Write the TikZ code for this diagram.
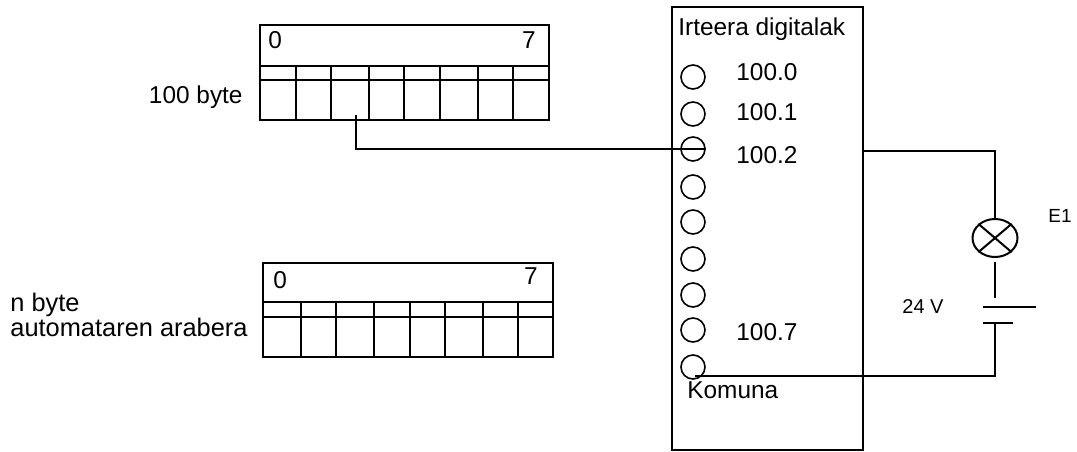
\documentclass[tikz,border=0pt]{standalone}
\usepackage{fontspec}
\setmainfont{Liberation Sans}
\usetikzlibrary{shapes.geometric}
\tikzset{
  wire/.style={line width=1pt},
  txt/.style={inner sep=0pt, anchor=base west, font=\fontsize{12.2}{14}\selectfont},
  txtwide/.style={inner sep=0pt, anchor=base west, font=\fontsize{12.7}{14}\selectfont},
  txtsmall/.style={inner sep=0pt, anchor=base west, font=\fontsize{9.5}{11}\selectfont},
  port/.style={circle, draw, line width=0.8pt, minimum size=12pt, inner sep=0pt}
}
\begin{document}
\begin{tikzpicture}[x=0.5pt, y=-0.5pt]
   \useasboundingbox (0,0) rectangle (1077,451);
   \draw[wire] (260,25) rectangle (549,120);
   \draw[wire] (260,66) -- (549,66);
   \draw[wire] (260,80) -- (549,80);
   \foreach \x in {296,331,369,404,440,478,513}
     \draw[wire] (\x,66) -- (\x,120);
   \draw[wire] (263,263) rectangle (553,357);
   \draw[wire] (263,302) -- (553,302);
   \draw[wire] (263,317) -- (553,317);
   \foreach \x in {301,336,374,410,445,483,518}
     \draw[wire] (\x,302) -- (\x,357);
   \node[txt] (first1) at (268,48) {0};
   \node[txt, anchor=base east] (last1) at (536,48) {7};
   \node[txt] (first2) at (273,288) {0};
   \node[txt, anchor=base east] (last2) at (538,284) {7};
   \node[txt, anchor=base east] (byte100) at (243,103) {100 byte};
   \node[txtwide] (byten) at (10,311) {n byte};
   \node[txtwide] (arabera) at (10,336) {automataren arabera};
   \node[draw, line width=1pt, minimum width=95.5pt, minimum height=221.5pt, inner sep=0pt] (modul) at (767.5,228.5) {};
   \node[txt] (izena) at (678,35) {Irteera digitalak};
   \foreach \n/\y in {0/77,1/114,2/149,3/187,4/222,5/259,6/295,7/330,8/367}
     \node[port] (out\n) at (693,\y) {};
   \node[txt] (lbl0) at (736,80) {100.0};
   \node[txt] (lbl1) at (736,120) {100.1};
   \node[txt] (lbl2) at (736,163) {100.2};
   \node[txt] (lbl7) at (736,340) {100.7};
   \node[txt] (komuna) at (687,398) {Komuna};
   \node[ellipse, draw, line width=1pt, minimum width=22.5pt, minimum height=19pt, inner sep=0pt] (lamp) at (995,238) {};
   \draw[wire] (lamp.north west) -- (lamp.south east);
   \draw[wire] (lamp.north east) -- (lamp.south west);
   \node[txtsmall] (e1) at (1048,222) {E1};
   \node[txtsmall, font=\fontsize{10}{11}\selectfont] (volt) at (902,313) {24 V};
   \coordinate (bit2) at (356,115);
   \coordinate (modout) at (863,151);
   \coordinate (lampdown) at (995,262);
   \coordinate (plus) at (995,298);
   \coordinate (plusL) at (983,307);
   \coordinate (plusR) at (1036,307);
   \coordinate (minusL) at (983,323);
   \coordinate (minusR) at (1013,323);
   \coordinate (minus) at (995,323);
   \coordinate (comend) at (695,376);
   \draw[wire] (bit2) |- (out2.east);
   \draw[wire] (modout) -| (lamp.north);
   \draw[wire] (lampdown) -- (plus);
   \draw[wire] (plusL) -- (plusR);
   \draw[wire] (minusL) -- (minusR);
   \draw[wire] (minus) |- (comend);
\end{tikzpicture}
\end{document}
